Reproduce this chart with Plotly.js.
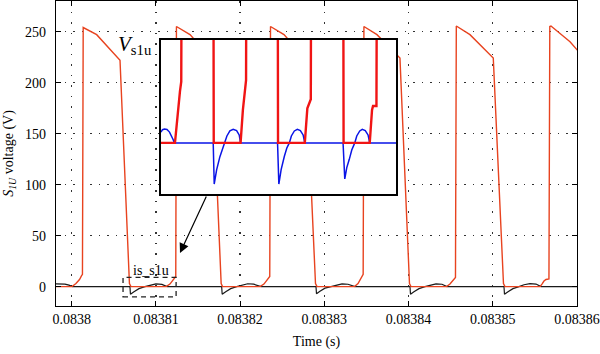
<!DOCTYPE html>
<html>
<head>
<meta charset="utf-8">
<script src="https://cdn.plot.ly/plotly-3.0.1.min.js"></script>
<style>html,body{margin:0;padding:0;background:#fff;}#chart{width:600px;height:354px;}</style>
</head>
<body>
<div id="chart"></div>
<script>
// ---- main chart: switch voltage V_s1u (V) vs time (s)
var vTime = [0.0837981, 0.08380004, 0.08380051, 0.08380093, 0.08380116, 0.08380128,
  0.08380137, 0.08380297, 0.08380574, 0.08380686, 0.08380704,
  0.08381120, 0.08381167, 0.08381203, 0.08381227, 0.08381236,
  0.08381244, 0.08381405, 0.08381662, 0.08381775, 0.08381791,
  0.08382236, 0.08382283, 0.08382319, 0.08382343, 0.08382352,
  0.08382361, 0.08382521, 0.08382776, 0.08382895, 0.08382913,
  0.08383358, 0.08383400, 0.08383435, 0.08383454, 0.08383461,
  0.08383470, 0.08383625, 0.08383898, 0.08384011, 0.08384029,
  0.08384450, 0.08384492, 0.08384528, 0.08384549, 0.08384557,
  0.08384567, 0.08384729, 0.08385006, 0.08385127, 0.08385145,
  0.08385561, 0.08385584, 0.08385608, 0.08385632, 0.08385667,
  0.08385677, 0.08385691, 0.08385917, 0.08386024];
var vVolt = [0, 0, 3, 7, 10.5, 12,
  254, 247, 222, 3, 0,
  0, 2.5, 6, 9, 10,
  255, 247, 223, 3, 0,
  0, 2.5, 6, 9, 10,
  255, 247, 223, 3, 0,
  0, 3, 7.5, 11, 12,
  255, 247, 224, 3, 0,
  0, 2.5, 6, 8.5, 9,
  255.5, 247, 224, 3, 0,
  0, 2.5, 5.5, 7, 7.5,
  255, 255.5, 240, 230];

// ---- main chart: switch current is_s1u (scaled)
var iTime = [0.0837981, 0.08379920, 0.08379968, 0.08380010,
  0.08380692, 0.08380698, 0.08380740, 0.08380799, 0.08380870, 0.08380930, 0.08381001, 0.08381072, 0.08381132,
  0.08381781, 0.08381787, 0.08381829, 0.08381888, 0.08381959, 0.08382019, 0.08382090, 0.08382161, 0.08382248,
  0.08382901, 0.08382907, 0.08382948, 0.08383008, 0.08383079, 0.08383138, 0.08383210, 0.08383281, 0.08383364,
  0.08384017, 0.08384023, 0.08384064, 0.08384124, 0.08384195, 0.08384254, 0.08384326, 0.08384397, 0.08384456,
  0.08385133, 0.08385139, 0.08385181, 0.08385240, 0.08385311, 0.08385371, 0.08385442, 0.08385513, 0.08385573,
  0.0838603];
var iVal = [2.6, 2.5, 1.5, 0,
  0, -7.5, -5, -2, 0, 1.5, 2.6, 2.2, 0,
  0, -7.5, -5, -2, 0, 1.5, 2.8, 2.4, 0,
  0, -7, -4.5, -1.5, 0, 1.5, 2.7, 2.3, 0,
  0, -7.5, -5, -2, 0, 1.5, 2.7, 2.3, 0,
  0, -7.5, -5, -2, 0, 1.8, 3.0, 2.5, 0,
  0];

// ---- inset: zoomed V_s1u and is_s1u (time in µs, arbitrary origin)
var insVTime = [0, 2.38, 3.23, 3.45, 3.57, 8.89, 8.98,
  13.55, 13.94, 14.2, 14.48, 14.57, 19.84, 19.92,
  24.48, 24.91, 25.33, 25.5, 25.59, 30.99, 31.08,
  35.53, 35.92, 36.09, 36.67, 36.81, 40.63];
var insVolt = [0, 0, 50, 59.5, 300, 300, 0,
  0, 32, 50, 61, 300, 300, 0,
  0, 33.6, 41.7, 42.5, 300, 300, 0,
  0, 32, 35.9, 35.9, 300, 300];
var insITime = [0, 0.26, 0.6, 1.02, 1.45, 1.79, 2.04, 2.30,
  8.89, 9.06, 9.47, 10.03, 10.49, 10.88, 11.22, 11.73, 12.29, 12.87, 13.31, 13.55,
  19.84, 20.06, 20.45, 21.0, 21.42, 21.85, 22.19, 22.70, 23.21, 23.72, 24.19, 24.48,
  30.99, 31.28, 31.62, 32.05, 32.47, 32.98, 33.32, 33.83, 34.26, 34.77, 35.24, 35.53,
  40.63];
var insIVal = [10.5, 12.8, 13.5, 13, 10.5, 7, 3.5, 0,
  0, -40, -26.3, -13.4, -5.2, 0, 6.7, 11.6, 13.2, 11.9, 7.7, 0,
  0, -40, -26, -13, -5, 0, 6.7, 11.6, 13.2, 12, 7.7, 0,
  0, -35, -24, -16, -7, 0, 6.7, 11.6, 13.2, 12, 7.7, 0,
  0];

var xTickVals = [0.0838, 0.08381, 0.08382, 0.08383, 0.08384, 0.08385, 0.08386];
var xTickText = ['0.0838', '0.08381', '0.08382', '0.08383', '0.08384', '0.08385', '0.08386'];
var yTickVals = [0, 50, 100, 150, 200, 250];
var yTickText = ['0', '50', '100', '150', '200', '250'];

var FONT = 'Liberation Serif, Times New Roman, serif';

var traces = [
  {x: iTime, y: iVal, type: 'scatter', mode: 'lines', line: {color: '#1a1a1a', width: 1.2}, xaxis: 'x', yaxis: 'y', hoverinfo: 'skip'},
  {x: vTime, y: vVolt, type: 'scatter', mode: 'lines', line: {color: '#e8431f', width: 1.4}, xaxis: 'x', yaxis: 'y', hoverinfo: 'skip'},
  {x: insITime, y: insIVal, type: 'scatter', mode: 'lines', line: {color: '#0a14e6', width: 1.5}, xaxis: 'x2', yaxis: 'y2', hoverinfo: 'skip'},
  {x: insVTime, y: insVolt, type: 'scatter', mode: 'lines', line: {color: '#f01414', width: 2.4}, xaxis: 'x2', yaxis: 'y2', hoverinfo: 'skip'}
];

var axCommon = {
  ticks: 'inside', ticklen: 5, tickwidth: 1.2, tickcolor: '#000',
  showline: true, linecolor: '#000', linewidth: 1.2, mirror: 'allticks',
  showgrid: true, gridcolor: '#333', gridwidth: 1.4,
  tickfont: {family: FONT, size: 14, color: '#000'}
};

var layout = {
  width: 600, height: 354,
  margin: {l: 56, r: 23, t: 1, b: 48},
  paper_bgcolor: '#fff', plot_bgcolor: '#fff',
  showlegend: false,
  font: {family: FONT, size: 14, color: '#000'},
  xaxis: Object.assign({}, axCommon, {
    range: [0.08379814, 0.08386], tickmode: 'array', tickvals: xTickVals, ticktext: xTickText,
    griddash: '1.5px,9px', zeroline: false, domain: [0, 1], anchor: 'y',
    title: {text: 'Time (s)', font: {family: FONT, size: 14, color: '#000'}, standoff: 10}
  }),
  yaxis: Object.assign({}, axCommon, {
    range: [-19, 280], tickmode: 'array', tickvals: yTickVals, ticktext: yTickText,
    griddash: '1.5px,7px', zeroline: true, zerolinecolor: '#000', zerolinewidth: 1.2,
    domain: [0, 1], anchor: 'x', ticklabelstandoff: 6,
    title: {text: '<i>S</i><sub><i>1U</i></sub> voltage (V)', font: {family: FONT, size: 14, color: '#000'}, standoff: 8}
  }),
  xaxis2: {domain: [0.2015, 0.6526], anchor: 'y2', range: [0, 40.0], showgrid: false, zeroline: false,
    showticklabels: false, ticks: '', showline: true, mirror: true, linecolor: '#000', linewidth: 1.6},
  yaxis2: {domain: [0.3662, 0.8721], anchor: 'x2', range: [-50, 100], showgrid: false, zeroline: false,
    showticklabels: false, ticks: '', showline: true, mirror: true, linecolor: '#000', linewidth: 1.6},
  shapes: [
    {type: 'rect', xref: 'x', yref: 'y', x0: 0.0838061, x1: 0.0838124, y0: -10, y1: 9,
     line: {color: '#222', width: 1.3, dash: '5px,4px'}, fillcolor: 'rgba(0,0,0,0)', layer: 'above'}
  ],
  annotations: [
    {xref: 'paper', yref: 'paper', x: 0.115, y: 0.856, xanchor: 'left', yanchor: 'middle', showarrow: false,
     text: '<i>V</i><sub>s1u</sub>', font: {family: FONT, size: 21, color: '#000'}},
    {xref: 'paper', yref: 'paper', x: 0.1823, y: 0.118, xanchor: 'center', yanchor: 'middle', showarrow: false,
     text: 'is_s1u', font: {family: FONT, size: 14, color: '#000'}},
    {xref: 'paper', yref: 'paper', x: 0.238, y: 0.1738, showarrow: true, axref: 'pixel', ayref: 'pixel',
     ax: 27, ay: -58, arrowhead: 2, arrowsize: 1.6, arrowwidth: 1.2, arrowcolor: '#000', text: ''}
  ]
};

Plotly.newPlot('chart', traces, layout, {staticPlot: true, displayModeBar: false});
</script>
</body>
</html>
